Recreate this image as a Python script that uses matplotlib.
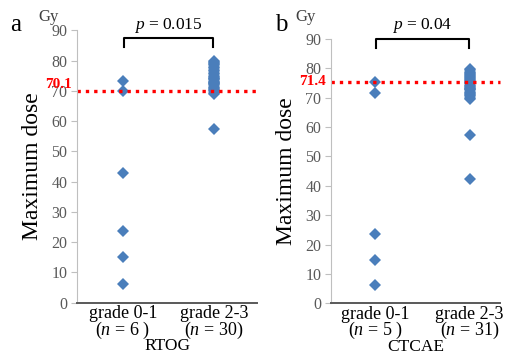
import numpy as np
import matplotlib
matplotlib.use("Agg")
import matplotlib.pyplot as plt

plt.rcParams['font.family'] = ['Liberation Serif', 'DejaVu Serif']
plt.rcParams['mathtext.fontset'] = 'custom'
plt.rcParams['mathtext.it'] = 'Liberation Serif:italic'
plt.rcParams['mathtext.rm'] = 'Liberation Serif'

# panel a: RTOG
rtog_low = [73.4, 70.1, 42.7, 23.6, 15.0, 6.3]
rtog_high = [80.0, 79.6, 79.2, 78.8, 78.4, 78.0, 77.5, 77.0, 76.5, 76.0,
             75.5, 75.0, 74.6, 74.2, 73.8, 73.4, 73.0, 72.6, 72.2, 71.8,
             71.4, 71.0, 70.6, 70.2, 69.8, 69.4, 69.0, 72.5, 74.0, 57.5]
rtog_cut = 70.1
rtog_cut_label = "70.1"
rtog_p = "0.015"
rtog_n = [6, 30]

# panel b: CTCAE
ctcae_low = [75.4, 71.4, 23.6, 14.8, 6.1]
ctcae_high = [79.6, 79.2, 78.8, 78.4, 78.0, 77.6, 77.2, 76.8, 76.4, 76.0,
              75.6, 75.2, 74.8, 74.4, 74.0, 73.6, 73.2, 72.8, 72.4, 72.0,
              71.6, 71.2, 70.8, 70.4, 70.0, 69.6, 73.0, 75.0, 77.0, 57.2, 42.4]
ctcae_cut_pos = 75.3   # where the dotted line sits in the figure
ctcae_cut_label = "71.4"
ctcae_p = "0.04"
ctcae_n = [5, 31]

yticks = list(range(0, 91, 10))
blue = '#4a7ebb'
gray = '#595959'

fig = plt.figure(figsize=(5.08, 3.52), dpi=100)


def draw_panel(rect, xlim, low, high, cut, cut_label, label_y, p, n, group, brk):
    ax = fig.add_axes(rect)
    ax.plot([1] * len(low), low, 'D', color=blue, ms=6.5, mew=0, clip_on=False)
    ax.plot([2] * len(high), high, 'D', color=blue, ms=6.5, mew=0, clip_on=False)
    ax.axhline(cut, color='red', lw=2.4, ls=(0, (1, 1.5)), clip_on=False)
    ax.set_xlim(*xlim)
    ax.set_ylim(0, 90)
    ax.set_yticks(yticks)
    ax.set_xticks([1, 2])
    ax.set_xticklabels(["grade 0-1\n($\\it{n}$ = %d )" % n[0],
                        "grade 2-3\n($\\it{n}$ = %d)" % n[1]],
                       fontsize=13, linespacing=0.8)
    ax.tick_params(axis='x', length=0, pad=2)
    ax.tick_params(axis='y', colors='#bfbfbf', labelcolor=gray, labelsize=11.5,
                   length=4, width=0.8, pad=3)
    ax.set_xlabel(group, fontsize=12.5, labelpad=-2)
    ax.set_ylabel("Maximum dose", fontsize=17, labelpad=6)
    for s in ['top', 'right']:
        ax.spines[s].set_visible(False)
    ax.spines['left'].set_color('#bfbfbf')
    ax.spines['bottom'].set_color('#595959')
    ax.spines['bottom'].set_linewidth(1.4)
    ax.text(-0.03, label_y, cut_label, transform=ax.get_yaxis_transform(),
            ha='right', va='center', color='red', fontsize=11, fontweight='bold')
    # bracket with p-value
    top, leg, ptxt = brk
    ax.plot([1.01, 1.01, 1.99, 1.99], [leg, top, top, leg], color='black',
            lw=1.5, clip_on=False)
    ax.text(1.5, ptxt, "$\\it{p}$ = " + p, ha='center', va='center', fontsize=12.5,
            clip_on=False)
    return ax


ax1 = draw_panel([0.152, 0.140, 0.354, 0.774], (0.5, 2.47), rtog_low, rtog_high,
                 rtog_cut, rtog_cut_label, 72.2, rtog_p, rtog_n, "RTOG",
                 (87.3, 84.4, 91.5))
ax2 = draw_panel([0.652, 0.138, 0.332, 0.752], (0.535, 2.32), ctcae_low, ctcae_high,
                 ctcae_cut_pos, ctcae_cut_label, ctcae_cut_pos, ctcae_p, ctcae_n,
                 "CTCAE", (89.9, 87.0, 94.6))

fig.text(0.030, 0.928, "a", fontsize=18, va='center', ha='center')
fig.text(0.095, 0.953, "Gy", fontsize=12, va='center', ha='center', color='#404040')
fig.text(0.553, 0.928, "b", fontsize=18, va='center', ha='center')
fig.text(0.602, 0.953, "Gy", fontsize=12, va='center', ha='center', color='#404040')

fig.savefig("out.png", dpi=100)
